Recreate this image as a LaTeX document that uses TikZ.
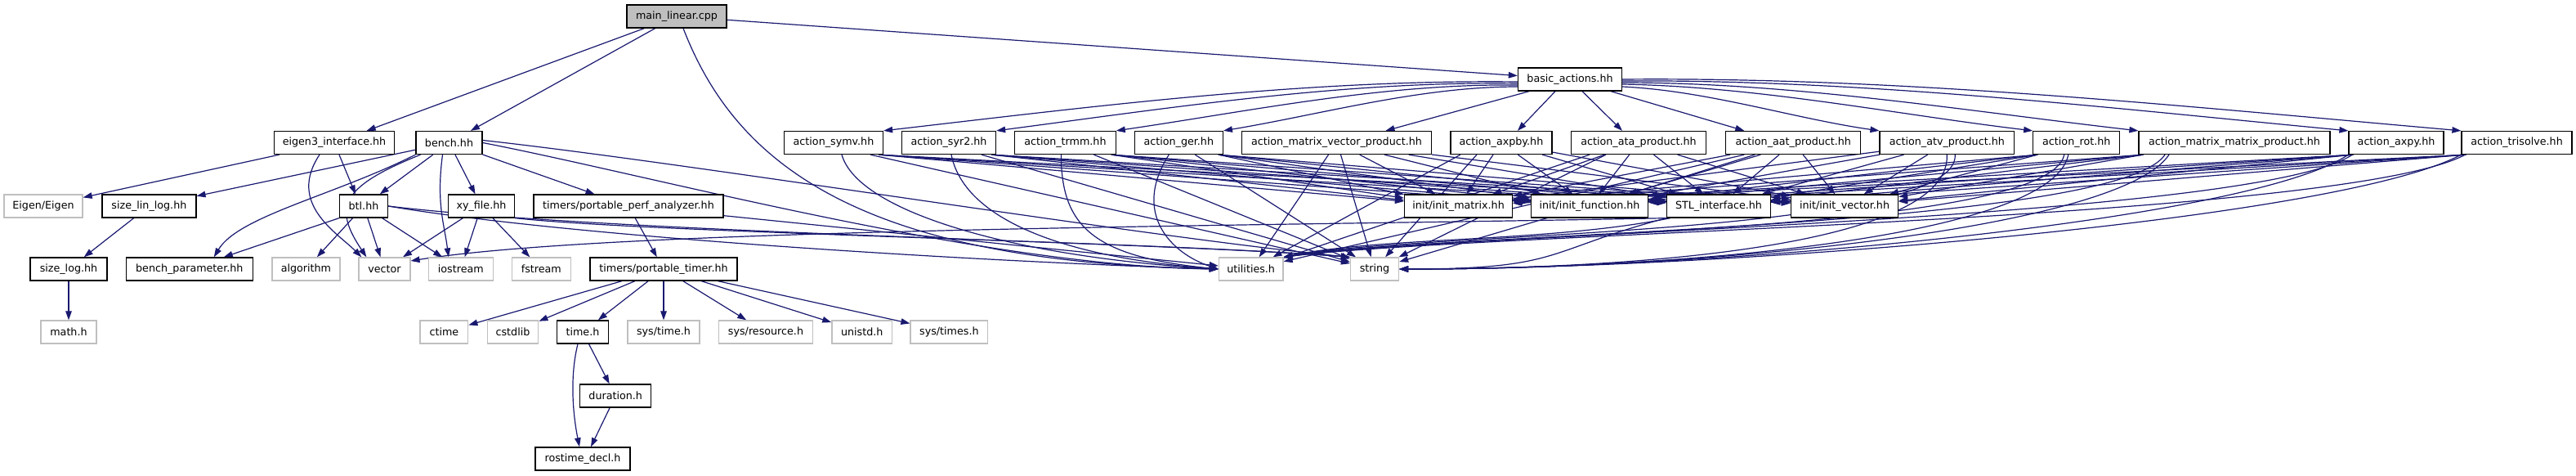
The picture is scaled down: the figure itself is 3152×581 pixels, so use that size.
\documentclass[tikz,border=0pt]{standalone}
\usepackage{fontspec}
\setmainfont{DejaVu Sans}
\usetikzlibrary{arrows.meta}
\pgfdeclarelayer{bg}
\pgfsetlayers{bg,main}
\definecolor{edgec}{HTML}{191970}
\definecolor{lgray}{HTML}{BFBFBF}
\begin{document}
\begin{tikzpicture}[x=1pt,y=-1pt,
 box/.style={draw=black,line width=1.3pt,fill=white,minimum height=28pt,inner sep=0pt,font=\fontsize{12.7}{15}\selectfont},
 ext/.style={box,draw=lgray},
 e/.style={draw=edgec,line width=1.2pt,-{Triangle[length=11pt,width=7.5pt]}}]
\useasboundingbox (0,0) rectangle (3152,581);
% row 0/1
\node[box,fill=lgray,minimum width=122pt] (main) at (828,20) {main\_linear.cpp};
\node[box,minimum width=127pt] (basic) at (1921,97) {basic\_actions.hh};
% row 2
\node[box,minimum width=147pt] (eig3) at (409,174.5) {eigen3\_interface.hh};
\node[box,minimum width=81pt] (bench) at (549.5,174.5) {bench.hh};
\node[box,minimum width=121pt] (symv) at (1020,174.5) {action\_symv.hh};
\node[box,minimum width=115pt] (syr2) at (1161,174.5) {action\_syr2.hh};
\node[box,minimum width=123.5pt] (trmm) at (1303.4,174.5) {action\_trmm.hh};
\node[box,minimum width=108pt] (ger) at (1442.3,174.5) {action\_ger.hh};
\node[box,minimum width=232pt] (mvp) at (1635.5,174.5) {action\_matrix\_vector\_product.hh};
\node[box,minimum width=124pt] (axpby) at (1836.9,174.5) {action\_axpby.hh};
\node[box,minimum width=165pt] (ata) at (2005,174.5) {action\_ata\_product.hh};
\node[box,minimum width=165pt] (aat) at (2194.3,174.5) {action\_aat\_product.hh};
\node[box,minimum width=164.5pt] (atv) at (2382.3,174.5) {action\_atv\_product.hh};
\node[box,minimum width=106pt] (rot) at (2540.8,174.5) {action\_rot.hh};
\node[box,minimum width=234pt] (mmp) at (2734,174.5) {action\_matrix\_matrix\_product.hh};
\node[box,minimum width=116pt] (axpy) at (2932,174.5) {action\_axpy.hh};
\node[box,minimum width=135pt] (tris) at (3079.5,174.5) {action\_trisolve.hh};
% row 3
\node[ext,minimum width=96pt] (eigen) at (53,252) {Eigen/Eigen};
\node[box,minimum width=115pt] (sll) at (182.4,252) {size\_lin\_log.hh};
\node[box,minimum width=59pt] (btl) at (445,252) {btl.hh};
\node[box,minimum width=81pt] (xy) at (589,252) {xy\_file.hh};
\node[box,minimum width=232pt] (ppa) at (769,252) {timers/portable\_perf\_analyzer.hh};
\node[box,minimum width=132pt] (IM) at (1784.6,252) {init/init\_matrix.hh};
\node[box,minimum width=143pt] (IF) at (1945,252) {init/init\_function.hh};
\node[box,minimum width=127pt] (ST) at (2103,252) {STL\_interface.hh};
\node[box,minimum width=131pt] (IV) at (2257,252) {init/init\_vector.hh};
% row 4
\node[box,minimum width=94pt] (slog) at (84,329) {size\_log.hh};
\node[box,minimum width=155pt] (bp) at (231.8,329) {bench\_parameter.hh};
\node[ext,minimum width=83pt] (alg) at (374.4,329) {algorithm};
\node[ext,minimum width=63pt] (vec) at (470.4,329) {vector};
\node[ext,minimum width=79pt] (ios) at (563.8,329) {iostream};
\node[ext,minimum width=72pt] (fst) at (662.3,329) {fstream};
\node[box,minimum width=180pt] (pt) at (812,329) {timers/portable\_timer.hh};
\node[ext,minimum width=78.5pt] (utl) at (1530.7,329) {utilities.h};
\node[ext,minimum width=59pt] (str) at (1682,329) {string};
% row 5
\node[ext,minimum width=68pt] (math) at (84,406) {math.h};
\node[ext,minimum width=58.7pt] (ctime) at (543.4,406) {ctime};
\node[ext,minimum width=62.5pt] (cstd) at (627.5,406) {cstdlib};
\node[box,minimum width=62.5pt] (timeh) at (713,406) {time.h};
\node[ext,minimum width=88pt] (systime) at (812,406) {sys/time.h};
\node[ext,minimum width=115pt] (sysres) at (937,406) {sys/resource.h};
\node[ext,minimum width=73.6pt] (unistd) at (1054.7,406) {unistd.h};
\node[ext,minimum width=94.7pt] (systimes) at (1161.4,406) {sys/times.h};
% rows 6,7
\node[box,minimum width=87pt] (dur) at (753.2,484) {duration.h};
\node[box,minimum width=116pt] (ros) at (713,561) {rostime\_decl.h};

\begin{pgfonlayer}{bg}
% main_linear.cpp
\draw[e] (main) -- (eig3);
\draw[e] (main) -- (bench);
\draw[e] (main) -- (basic);
\draw[e] ([xshift=8pt]main.south) .. controls (900,200) and (1050,320) .. (utl.west);
% basic_actions.hh
\draw[e] ([yshift=-3pt]basic.west) .. controls +(-260,-3) and +(260,-30) .. (symv.north east);
\draw[e] ([yshift=-5pt]basic.west) .. controls +(-213,-3) and +(213,-28) .. (syr2.north east);
\draw[e] ([yshift=-7pt]basic.west) .. controls +(-164,-2) and +(164,-24) .. (trmm.north east);
\draw[e] ([yshift=-9pt]basic.west) .. controls +(-120,0) and +(120,-20) .. (ger.north east);
\draw[e] ([xshift=-50pt]basic.south) -- ([xshift=60pt]mvp.north);
\draw[e] ([xshift=-18pt]basic.south) -- ([xshift=20pt]axpby.north);
\draw[e] ([xshift=15pt]basic.south) -- ([xshift=-20pt]ata.north);
\draw[e] ([xshift=50pt]basic.south) -- ([xshift=-60pt]aat.north);
\draw[e] ([yshift=-9pt]basic.east) .. controls +(105,5) and +(-105,-15) .. (atv.north west);
\draw[e] ([yshift=-6pt]basic.east) .. controls +(168,3) and +(-168,-20) .. (rot.north west);
\draw[e] ([yshift=-4pt]basic.east) .. controls +(210,0) and +(-210,-24) .. (mmp.north west);
\draw[e] ([yshift=-2pt]basic.east) .. controls +(296,-2) and +(-296,-28) .. (axpy.north west);
\draw[e] (basic.east) .. controls +(342,-3) and +(-342,-30) .. (tris.north west);
% actions -> init / STL
\foreach \act in {symv,syr2,trmm,ger} {\foreach \t in {IM,IF,ST,IV} {\draw[e] ([xshift=-6pt]\act.south east) -- (\t);}}
\foreach \act in {mvp,axpby,ata,aat,atv} {\foreach \t in {IM,IF,ST,IV} {\draw[e] (\act) -- (\t);}}
\foreach \act in {rot,mmp,axpy,tris} {\foreach \t in {IM,IF,ST,IV} {\draw[e] ([xshift=6pt]\act.south west) -- (\t);}}
% actions -> utilities.h / string
\draw[e] ([xshift=10pt]symv.south) .. controls +(20,70) and +(-250,-15) .. (utl.west);
\draw[e] ([xshift=45pt]symv.south) -- (str);
\draw[e] ([xshift=3pt]syr2.south) .. controls +(15,75) and +(-200,-15) .. (utl.west);
\draw[e] ([xshift=40pt]syr2.south) -- (str);
\draw[e] ([xshift=-5pt]trmm.south) .. controls +(0,90) and +(-150,-15) .. (utl.west);
\draw[e] ([xshift=35pt]trmm.south) -- (str);
\draw[e] ([xshift=-12pt]ger.south) .. controls +(-45,70) and +(-60,-20) .. (utl.west);
\draw[e] ([xshift=20pt]ger.south) -- (str);
\draw[e] ([xshift=-10pt]mvp.south) -- (utl);
\draw[e] ([xshift=5pt]mvp.south) -- (str);
\draw[e] ([xshift=-50pt]axpby.south) -- (utl);
\draw[e] ([xshift=-30pt]axpby.south) -- (str);
\draw[e] ([xshift=-60pt]ata.south) -- (utl);
\draw[e] ([xshift=-40pt]ata.south) -- (str);
\draw[e] ([xshift=-60pt]aat.south) -- (utl);
\draw[e] ([xshift=-40pt]aat.south) -- (str);
\draw[e] (atv.south) .. controls +(5,110) and +(300,0) .. (str.east);
\draw[e] ([xshift=10pt]atv.south) .. controls +(5,100) and +(150,-30) .. (utl.north east);
\draw[e] ([xshift=-10pt]rot.south) .. controls +(-20,100) and +(350,0) .. (str.east);
\draw[e] ([xshift=-15pt]rot.south) .. controls +(-20,100) and +(180,-30) .. (utl.north east);
\draw[e] ([xshift=-80pt]mmp.south) .. controls +(-60,90) and +(380,0) .. (str.east);
\draw[e] ([xshift=-85pt]mmp.south) .. controls +(-60,90) and +(200,-30) .. (utl.north east);
\draw[e] (axpy.south west) .. controls +(-120,80) and +(400,0) .. (str.east);
\draw[e] ([xshift=5pt]axpy.south west) .. controls +(-120,80) and +(220,-30) .. (utl.north east);
\draw[e] (tris.south west) .. controls +(-150,80) and +(400,0) .. (str.east);
\draw[e] ([xshift=5pt]tris.south west) .. controls +(-150,80) and +(240,-30) .. (utl.north east);
% STL_interface.hh
\draw[e] (ST.south west) .. controls +(-150,40) and +(200,0) .. (str.east);
\draw[e] ([xshift=5pt]ST.south west) .. controls +(-150,30) and +(120,-25) .. (utl.north east);
\draw[e] (ST.south west) .. controls +(-500,10) and +(250,-40) .. ([yshift=10pt]vec.east);
% eigen3_interface.hh
\draw[e] (eig3) -- (eigen);
\draw[e] ([xshift=-18pt]eig3.south) .. controls +(-40,60) and +(-30,-30) .. ([xshift=-28pt]vec.north);
\draw[e] ([xshift=6pt]eig3.south) -- ([xshift=-10pt]btl.north);
% bench.hh
\draw[e] (bench) -- (sll);
\draw[e] (bench) -- (btl);
\draw[e] (bench) -- (xy);
\draw[e] (bench) -- (ppa);
\draw[e] ([xshift=-8pt]bench.south) .. controls +(-8,60) and +(-5,-40) .. ([xshift=-15pt]ios.north);
\draw[e] (bench.south west) .. controls +(-100,50) and +(30,-50) .. ([xshift=30pt]bp.north);
\draw[e] ([xshift=-35pt]bench.south) .. controls +(-100,40) and +(-40,-60) .. ([xshift=-22pt]vec.north);
\draw[e] (bench.east) .. controls (800,215) and (1200,325) .. (utl.west);
\draw[e] ([yshift=3pt]bench.east) .. controls (850,200) and (1400,290) .. (str.north west);
% btl.hh
\draw[e] (btl.south west) -- ([xshift=42pt]bp.north);
\draw[e] (btl) -- (alg);
\draw[e] (btl) -- (vec);
\draw[e] (btl) -- (ios);
\draw[e] (btl.east) .. controls (700,290) and (1200,320) .. (utl.west);
\draw[e] (btl.east) .. controls (750,285) and (1400,295) .. (str.north west);
% xy_file.hh
\draw[e] (xy) -- (vec);
\draw[e] (xy) -- (ios);
\draw[e] (xy) -- (fst);
\draw[e] (xy.south east) .. controls (800,285) and (1400,295) .. (str.north west);
% size_lin_log.hh, size_log.hh
\draw[e] (sll) -- (slog);
\draw[e] (slog) -- (math);
% timers
\draw[e] (ppa) -- (utl);
\draw[e] (ppa) -- (pt);
\foreach \t in {ctime,cstd,timeh,systime,sysres,unistd,systimes} {\draw[e] (pt) -- (\t);}
\draw[e] (timeh) -- (dur);
\draw[e] ([xshift=-6pt]timeh.south) .. controls +(-10,40) and +(-8,-40) .. ([xshift=-4pt]ros.north);
\draw[e] (dur) -- ([xshift=10pt]ros.north);
\end{pgfonlayer}
\end{tikzpicture}
\end{document}
